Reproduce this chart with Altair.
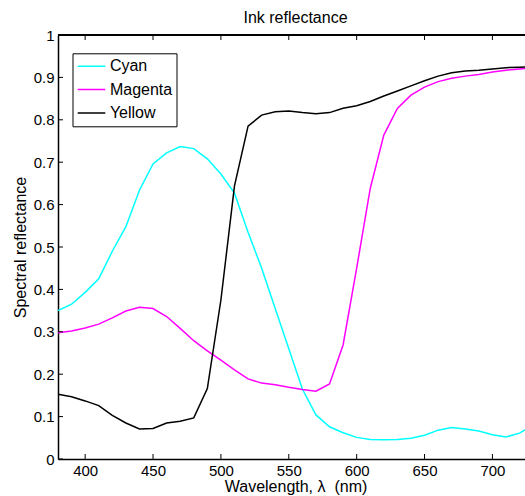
import altair as alt
import pandas as pd

wavelength = list(range(380, 740, 10))
cyan = [0.350, 0.365, 0.393, 0.425, 0.490, 0.548, 0.634, 0.696, 0.722, 0.737,
        0.732, 0.708, 0.672, 0.627, 0.535, 0.450, 0.355, 0.260, 0.165, 0.104,
        0.076, 0.062, 0.051, 0.046, 0.0455, 0.046, 0.049, 0.056, 0.068, 0.074,
        0.071, 0.066, 0.057, 0.052, 0.061, 0.080]
magenta = [0.298, 0.302, 0.309, 0.318, 0.333, 0.349, 0.358, 0.355, 0.336, 0.308,
           0.279, 0.255, 0.233, 0.210, 0.189, 0.179, 0.175, 0.169, 0.164, 0.160,
           0.177, 0.269, 0.450, 0.638, 0.764, 0.827, 0.858, 0.877, 0.890, 0.898,
           0.903, 0.907, 0.913, 0.917, 0.920, 0.922]
yellow = [0.153, 0.147, 0.137, 0.126, 0.103, 0.085, 0.071, 0.072, 0.085, 0.089,
          0.097, 0.166, 0.375, 0.644, 0.785, 0.811, 0.819, 0.821, 0.817, 0.814,
          0.817, 0.827, 0.833, 0.843, 0.856, 0.868, 0.880, 0.892, 0.903, 0.911,
          0.915, 0.917, 0.920, 0.923, 0.924, 0.925]
series_names = ["Cyan", "Magenta", "Yellow"]
series_colors = ["#00ffff", "#ff00ff", "#000000"]
x_ticks = [400, 450, 500, 550, 600, 650, 700]
y_ticks = [0, 0.1, 0.2, 0.3, 0.4, 0.5, 0.6, 0.7, 0.8, 0.9, 1]

rows = []
for name, vals in zip(series_names, [cyan, magenta, yellow]):
    for w, v in zip(wavelength, vals):
        rows.append({"wavelength": w, "reflectance": v, "ink": name})
df = pd.DataFrame(rows)
xticks_df = pd.DataFrame({"t": x_ticks})
yticks_df = pd.DataFrame({"t": y_ticks})

W, H = 467, 424
FONT = "Liberation Sans"

xscale = alt.Scale(domain=[380, 724], nice=False, zero=False)
yscale = alt.Scale(domain=[0, 1], nice=False)

lines = alt.Chart(df).mark_line(strokeWidth=1.5, clip=True).encode(
    x=alt.X("wavelength:Q", scale=xscale,
            axis=alt.Axis(values=x_ticks, title="Wavelength, λ\u00a0 (nm)",
                          tickSize=0, labelPadding=4, domainWidth=1.5,
                          domainColor="black", labelColor="black",
                          titleColor="black",
                          titleX=237.5, titleY=32.5, titleBaseline="alphabetic",
                          titleFontWeight="normal", titleFontSize=16,
                          labelFontSize=15, grid=False)),
    y=alt.Y("reflectance:Q", scale=yscale,
            axis=alt.Axis(values=y_ticks, format="~g", title="Spectral reflectance",
                          tickSize=0, labelPadding=4, domainWidth=1.5,
                          domainColor="black", labelColor="black",
                          titleColor="black", titleX=-33, titleY=212,
                          titleBaseline="alphabetic",
                          titleFontWeight="normal", titleFontSize=16,
                          labelFontSize=15, grid=False)),
    color=alt.Color("ink:N",
                    scale=alt.Scale(domain=series_names, range=series_colors),
                    legend=alt.Legend(orient="none", legendX=14.5, legendY=18.3,
                                      title=None, fillColor="white",
                                      strokeColor="black", padding=4,
                                      cornerRadius=0, symbolType="stroke",
                                      symbolSize=762, symbolStrokeWidth=1.5,
                                      labelFontSize=16, labelFont=FONT,
                                      labelOffset=3.4, rowPadding=5.3,
                                      clipHeight=18,
                                      labelColor="black")),
)

bottom_ticks = alt.Chart(xticks_df).mark_rule(color="black", strokeWidth=1).encode(
    x=alt.X("t:Q", scale=xscale), y=alt.value(H), y2=alt.value(H - 5))
top_ticks = alt.Chart(xticks_df).mark_rule(color="black", strokeWidth=1).encode(
    x=alt.X("t:Q", scale=xscale), y=alt.value(0), y2=alt.value(5))
left_ticks = alt.Chart(yticks_df).mark_rule(color="black", strokeWidth=1).encode(
    y=alt.Y("t:Q", scale=yscale), x=alt.value(0), x2=alt.value(5))
top_line = alt.Chart(xticks_df).mark_rule(color="black", strokeWidth=1.5).encode(
    x=alt.value(0), x2=alt.value(W), y=alt.value(0))

chart = alt.layer(lines, bottom_ticks, top_ticks, left_ticks, top_line).properties(
    width=W, height=H,
    title=alt.TitleParams("Ink reflectance", fontSize=16, font=FONT,
                          fontWeight="normal", anchor="middle", dx=4, offset=2,
                          color="black"),
    autosize=alt.AutoSizeParams(type="none"),
    padding={"left": 58, "top": 35, "right": 0, "bottom": 37},
).configure_view(stroke=None).configure(font=FONT)

chart.save("out.html", embed_options={"renderer": "svg", "actions": False})
